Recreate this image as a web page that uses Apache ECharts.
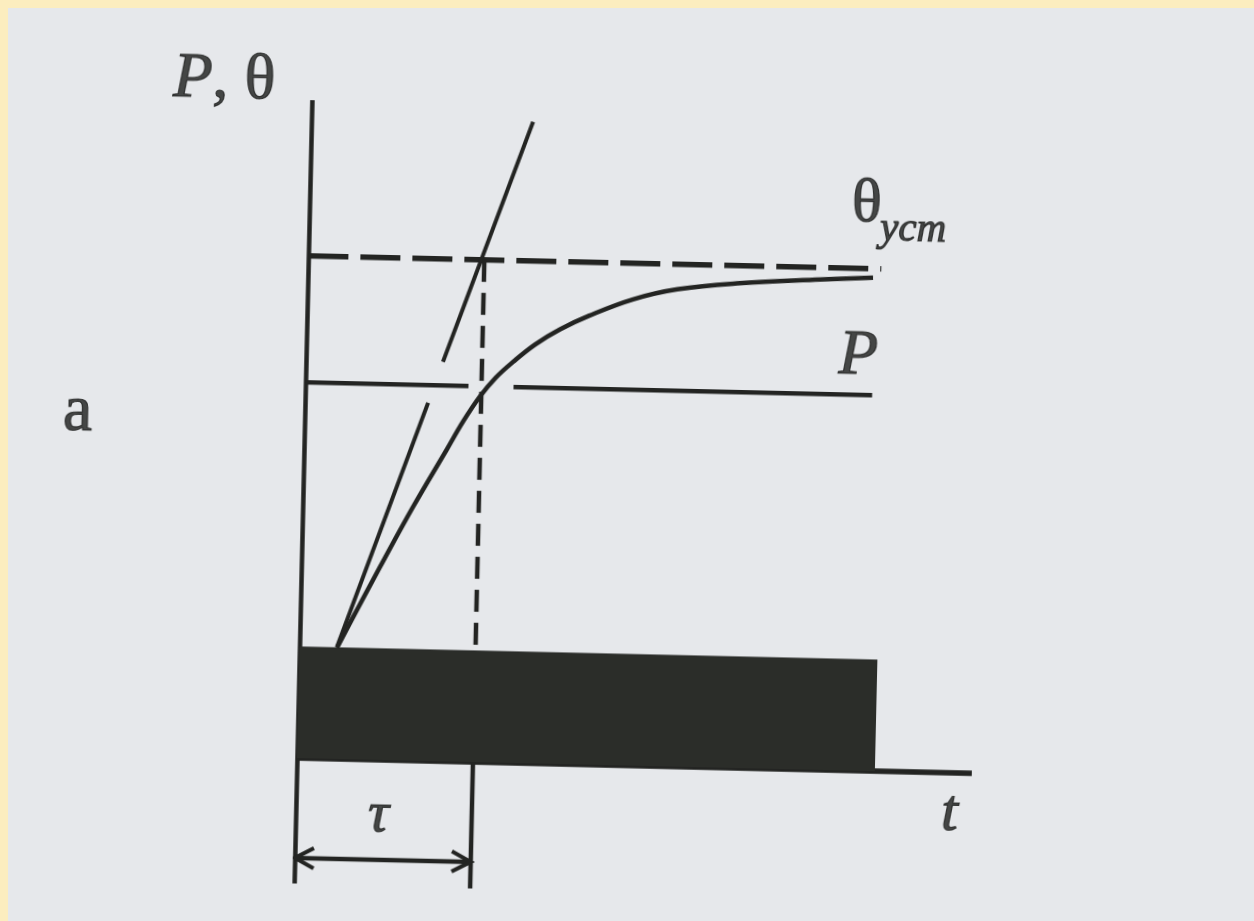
<!DOCTYPE html>
<html><head><meta charset="utf-8">
<script src="https://cdn.jsdelivr.net/npm/echarts@6/dist/echarts.min.js"></script>
<style>
html,body{margin:0;padding:0;width:1254px;height:921px;overflow:hidden;background:#FCEDBF;}
#page{position:absolute;left:8px;top:8px;right:0;bottom:0;background:#E6E8EB;}
#chart{position:absolute;left:0;top:0;width:1254px;height:921px;transform:rotate(1.3deg);transform-origin:297px 758px;}
</style></head><body><div id="page"></div><div id="chart"></div>
<script>
// ---- values (t in units of τ, P/θ in units of θуст) ----
const tMax = 3.835;                 // end of the t axis
const vMin = -0.25, vMax = 1.31;    // extent of the P, θ axis
const blockT = [0, 3.284];          // load block span
const blockV = 0.221;               // load block height
const steadyT = [0, 3.256];         // θуст dashed line span
const steadyV = 1.0;                // θуст level
const pLineT1 = [0, 0.926];         // P line, left part
const pLineT2 = [1.182, 3.22];      // P line, right part
const pV = 0.748;                   // P level
const tau = 1.0;                    // time constant τ
const tauDashV = [1.0, 0.221];      // vertical dashed line at τ
const tangentT = [0.213, 0.699, 0.778, 1.259];
const tangentV = [0.223, 0.713, 0.795, 1.277];
const curveT = [0.213, 0.311, 0.447, 0.627, 0.813, 0.90, 0.993, 1.08, 1.176, 1.30, 1.439, 1.6, 1.85, 2.1, 2.455, 2.91, 3.21];
const curveV = [0.221, 0.290, 0.384, 0.505, 0.622, 0.677, 0.728, 0.766, 0.798, 0.834, 0.865, 0.893, 0.928, 0.950, 0.965, 0.976, 0.982];
const tauBoundV = -0.252;           // lower end of the τ boundary line
const arrowV = -0.199;              // τ dimension arrow level
const headDT = 0.108, headDV = 0.02; // arrow head arm size
const labelTexts = ['{i|P}{n|, θ}', 'a', 'θ', 'уст', 'P', 't', 'τ'];
const labelT = [-0.5, -1.29, 3.165, 3.432, 3.136, 3.714, 0.470];
const labelV = [1.345, 0.677, 1.127, 1.078, 0.823, -0.082, -0.112];
const labelSize = [64, 66, 62, 41, 64, 60, 58];
const labelItalic = [false, false, false, true, true, true, true];

const INK = '#232422';
const TXT = '#1c1d1c';
const chart = echarts.init(document.getElementById('chart'), null, {renderer: 'canvas'});

function seg(points, width, dash, extra) {
  return Object.assign({
    type: 'line', data: points, symbol: 'none', silent: true, animation: false,
    lineStyle: {color: INK, width: width, type: dash || 'solid', cap: 'butt', join: 'miter'},
    z: 3
  }, extra || {});
}

const series = [];
// load block
series.push(seg([[blockT[0], blockV], [blockT[1], blockV]], 1, 'solid', {
  areaStyle: {color: '#2b2d29', opacity: 1, origin: 'auto'}, z: 2,
  lineStyle: {color: '#2b2d29', width: 1}
}));
// θуст dashed
series.push(seg([[steadyT[0], steadyV], [steadyT[1], steadyV]], 5.5, [40, 12]));
// vertical dashed at τ
series.push(seg([[tau, tauDashV[0]], [tau, tauDashV[1]]], 4.5, [22, 11]));
// P line (two parts)
series.push(seg([[pLineT1[0], pV], [pLineT1[1], pV]], 4.5));
series.push(seg([[pLineT2[0], pV], [pLineT2[1], pV]], 4.5));
// tangent (two parts)
series.push(seg([[tangentT[0], tangentV[0]], [tangentT[1], tangentV[1]]], 4));
series.push(seg([[tangentT[2], tangentV[2]], [tangentT[3], tangentV[3]]], 4));
// heating curve
series.push(seg(curveT.map((t, i) => [t, curveV[i]]), 4.5, 'solid', {smooth: 0.4}));
// τ boundary line
series.push(seg([[tau, 0], [tau, tauBoundV]], 4.5));
// τ arrow
series.push(seg([[0, arrowV], [tau, arrowV]], 4.5));
series.push(seg([[headDT, arrowV + headDV], [0, arrowV], [headDT, arrowV - headDV]], 4));
series.push(seg([[tau - headDT, arrowV + headDV], [tau, arrowV], [tau - headDT, arrowV - headDV]], 4));
// text labels
series.push({
  type: 'scatter', silent: true, animation: false, clip: false, symbolSize: 1,
  itemStyle: {color: 'rgba(0,0,0,0)'}, z: 5,
  data: labelTexts.map((txt, i) => ({
    value: [labelT[i], labelV[i]],
    label: {
      show: true, position: 'inside', align: 'center', verticalAlign: 'middle',
      formatter: txt, color: TXT, fontFamily: 'Liberation Serif',
      fontSize: labelSize[i], fontStyle: labelItalic[i] ? 'italic' : 'normal',
      textBorderColor: TXT, textBorderWidth: 1.2,
      rich: {
        i: {fontFamily: 'Liberation Serif', fontSize: labelSize[i], fontStyle: 'italic', color: TXT, textBorderColor: TXT, textBorderWidth: 1.2},
        n: {fontFamily: 'Liberation Serif', fontSize: labelSize[i], fontStyle: 'normal', color: TXT, textBorderColor: TXT, textBorderWidth: 1.2}
      }
    }
  }))
});

chart.setOption({
  backgroundColor: 'transparent',
  animation: false,
  grid: {left: 297, right: 282, top: 100, bottom: 37.5, containLabel: false},
  xAxis: {
    type: 'value', min: 0, max: tMax,
    axisLine: {show: true, onZero: true, lineStyle: {color: INK, width: 5.5, cap: 'butt'}},
    axisTick: {show: false}, axisLabel: {show: false}, splitLine: {show: false}
  },
  yAxis: {
    type: 'value', min: vMin, max: vMax,
    axisLine: {show: true, onZero: false, lineStyle: {color: INK, width: 4.5, cap: 'butt'}},
    axisTick: {show: false}, axisLabel: {show: false}, splitLine: {show: false}
  },
  series: series
});
</script></body></html>
